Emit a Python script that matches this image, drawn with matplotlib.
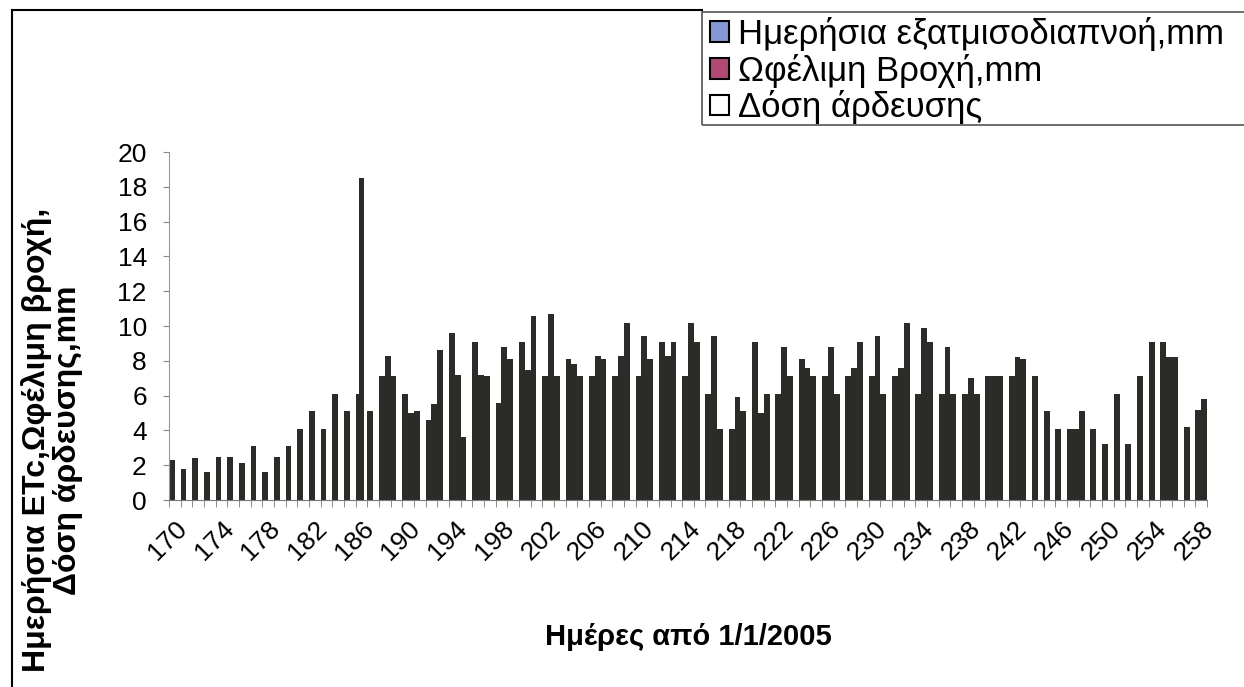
import matplotlib
matplotlib.use("Agg")
import matplotlib.pyplot as plt
import numpy as np
from matplotlib.patches import Patch, Rectangle
from matplotlib.lines import Line2D

plt.rcParams['font.family'] = ['Liberation Sans', 'DejaVu Sans']

days = list(range(170, 259))

etc = [2.3, 1.8, 2.4, 1.6, 2.5, 2.5, 2.1, 3.1, 1.6, 2.5,
       3.1, 4.1, 5.1, 4.1, 6.1, 5.1, 6.1, 5.1, 7.1, 7.1,
       6.1, 5.1, 4.6, 8.6, 9.6, 3.6, 9.1, 7.1, 5.6, 8.1,
       9.1, 10.6, 7.1, 7.1, 8.1, 7.1, 7.1, 8.1, 7.1, 10.2,
       7.1, 8.1, 9.1, 9.1, 7.1, 9.1, 6.1, 4.1, 4.1, 5.1,
       9.1, 6.1, 6.1, 7.1, 8.1, 7.1, 7.1, 6.1, 7.1, 9.1,
       7.1, 6.1, 7.1, 10.2, 6.1, 9.1, 6.1, 6.1, 6.1, 6.1,
       7.1, 7.1, 7.1, 8.1, 7.1, 5.1, 4.1, 4.1, 5.1, 4.1,
       3.2, 6.1, 3.2, 7.1, 9.1, 9.1, 8.2, 4.2, 5.2]

rain_days = [186]
rain_vals = [18.5]

irr_days = [188, 190, 192, 194, 196, 198, 200, 202, 204, 206, 208, 210, 212,
            214, 216, 218, 220, 222, 224, 226, 228, 230, 232, 234, 236, 238,
            240, 242, 247, 255, 258]
irr_vals = [8.3, 5.0, 5.5, 7.2, 7.2, 8.8, 7.5, 10.7, 7.8, 8.3, 8.3, 9.4, 8.3,
            10.2, 9.4, 5.9, 5.0, 8.8, 7.6, 8.8, 7.6, 9.4, 7.6, 9.9, 8.8, 7.0,
            7.1, 8.2, 4.1, 8.2, 5.8]

series_names = ["Ημερήσια εξατμισοδιαπνοή,mm", "Ωφέλιμη Βροχή,mm", "Δόση άρδευσης"]
legend_colors = ["#8597d4", "#b04a72", "#ffffff"]

rain = [0.0] * len(days)
for d, v in zip(rain_days, rain_vals):
    rain[days.index(d)] = v
irr = [0.0] * len(days)
for d, v in zip(irr_days, irr_vals):
    irr[days.index(d)] = v

W, H = 1244, 687
fig = plt.figure(figsize=(W / 100, H / 100), dpi=100)
ax = fig.add_axes([169 / W, 1 - 500 / H, (1207 - 169) / W, (500 - 152) / H])

x = np.arange(len(days))
bw = 0.5
barcol = "#2b2b28"
ax.bar(x - 0.25, etc, width=bw, color=barcol, linewidth=0)
ax.bar(x, rain, width=bw, color=barcol, linewidth=0)
ax.bar(x + 0.25, irr, width=bw, color=barcol, linewidth=0)

ax.set_xlim(-0.5, len(days) - 0.5)
ax.set_ylim(0, 20)
ax.set_yticks(np.arange(0, 21, 2))
ax.tick_params(axis='y', labelsize=19, length=4, color="#888888", pad=12)

lab_idx = [i for i, d in enumerate(days) if (d - 170) % 4 == 0]
ax.set_xticks(lab_idx)
ax.set_xticklabels([str(days[i]) for i in lab_idx], rotation=45, ha='right',
                   rotation_mode='anchor', fontsize=19)
ax.tick_params(axis='x', which='major', length=0, pad=12)
ax.set_xticks(np.arange(-0.5, len(days), 1), minor=True)
ax.tick_params(axis='x', which='minor', length=5, color="#777777", direction='out')

for s in ['top', 'right']:
    ax.spines[s].set_visible(False)
ax.spines['left'].set_color("#999999")
ax.spines['bottom'].set_color("#777777")

fig.text(688 / W, 1 - 637 / H, "Ημέρες από 1/1/2005", ha='center', va='center',
         fontsize=21, fontweight='bold')
fig.text(52 / W, 1 - 440 / H, "Ημερήσια ETc,Ωφέλιμη βροχή,\nΔόση άρδευσης,mm",
         rotation=90, ha='center', va='center', fontsize=23, fontweight='bold',
         multialignment='center', linespacing=1.05)

# outer frame lines
fig.add_artist(Line2D([12 / W, 702 / W], [1 - 10 / H, 1 - 10 / H], color='black', lw=1.5,
                      transform=fig.transFigure))
fig.add_artist(Line2D([12 / W, 12 / W], [1 - 10 / H, 0], color='black', lw=1.5,
                      transform=fig.transFigure))
# legend frame
fig.add_artist(Rectangle((702 / W, 1 - 125 / H), (1250 - 702) / W, (125 - 12) / H,
                         transform=fig.transFigure, fill=False, edgecolor="#555555", lw=1.2))

handles = [Patch(facecolor=c, edgecolor='black', linewidth=1.5) for c in legend_colors]
fig.legend(handles, series_names, loc='upper left', bbox_to_anchor=(708 / W, 1 - 15 / H),
           frameon=False, fontsize=25, handlelength=0.55, handleheight=0.55,
           handletextpad=0.25, labelspacing=0.08, borderaxespad=0, borderpad=0.05)

fig.savefig("out.png", dpi=100)
